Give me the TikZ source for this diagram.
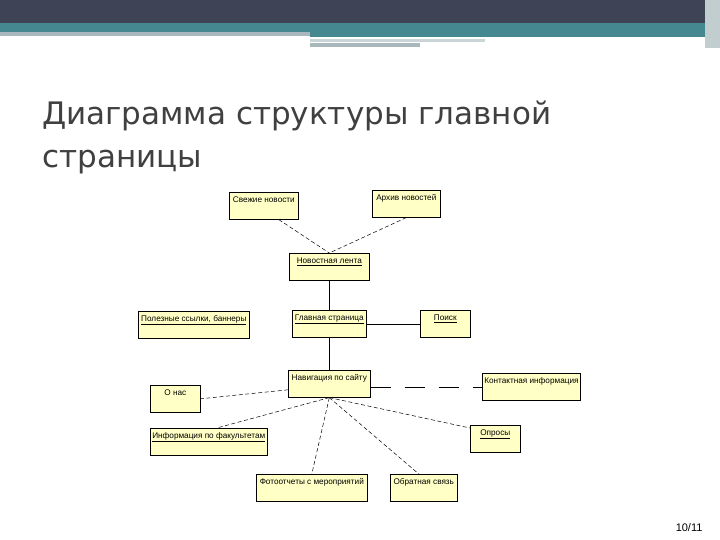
\documentclass[tikz,border=0pt]{standalone}
\usepackage{fontspec}
\setmainfont{Liberation Sans}
\newfontfamily\titlefont{DejaVu Sans}
\usetikzlibrary{calc}
\definecolor{hdrdark}{HTML}{3E4456}
\definecolor{hdrteal}{HTML}{468890}
\definecolor{hdrgray}{HTML}{A8B8BC}
\definecolor{boxfill}{HTML}{FFFFC6}
\definecolor{titlegray}{HTML}{404040}
\tikzset{
  blk/.style={draw,line width=0.6pt,fill=boxfill,anchor=north west,align=center,
              inner sep=2pt,font=\fontsize{8.2}{9}\selectfont,
              text height=8pt,text depth=15pt},
  dl/.style={line width=0.5pt,dash pattern=on 4pt off 2.5pt},
  ll/.style={line width=0.6pt,dash pattern=on 20pt off 14pt},
  sl/.style={line width=0.6pt},
}

\begin{document}
\begin{tikzpicture}[x=1pt,y=-1pt]
\useasboundingbox (0,0) rectangle (720,540);
% slide header
\fill[white] (0,0) rectangle (720,540);
\fill[hdrdark] (0,0) rectangle (720,23);
\fill[hdrteal] (0,23) rectangle (720,32);
\fill[hdrgray] (0,32) rectangle (310,36);
\fill[hdrteal] (310,32) rectangle (705,37);
\fill[hdrgray!60] (310,39) rectangle (485,42);
\fill[hdrgray] (310,43) rectangle (420,47);
\fill[hdrgray!70] (705,0) rectangle (720,48);
% title
\node[anchor=north west,align=left,text=titlegray,inner sep=0pt,
      font=\titlefont\fontsize{31}{43}\selectfont] (title) at (42,101)
  {Диаграмма структуры главной\\страницы};
% news
\node[blk,minimum width=69pt] (svezh) at (229,192) {Свежие новости};
\node[blk,minimum width=68pt] (arhiv) at (372,190) {Архив новостей};
\node[blk,minimum width=80pt] (lenta) at (289,253) {\underline{Новостная лента}};
% main row
\node[blk,minimum width=111pt] (links) at (138,311) {\underline{Полезные ссылки, баннеры}};
\node[blk,minimum width=74pt] (glav) at (292,310) {\underline{Главная страница}};
\node[blk,minimum width=50pt] (poisk) at (420,310) {\underline{Поиск}};
% navigation
\node[blk,minimum width=82pt] (nav) at (288,370) {Навигация по сайту};
\node[blk,minimum width=50pt] (onas) at (150,385) {О нас};
\node[blk,minimum width=98pt] (kontakt) at (482,373) {Контактная информация};
\node[blk,minimum width=115pt] (fak) at (150,428) {\underline{Информация по факультетам}};
\node[blk,minimum width=50pt] (opros) at (470,425) {\underline{Опросы}};
\node[blk,minimum width=111pt] (foto) at (256,474) {Фотоотчеты с мероприятий};
\node[blk,minimum width=67pt] (obr) at (390,474) {Обратная связь};
% connectors
\draw[dl] ([xshift=15pt]svezh.south) -- (lenta.north);
\draw[dl] (arhiv.south) -- (lenta.north);
\draw[sl] (lenta.south) -- (glav.north);
\draw[sl] (glav.east) -- (poisk.west);
\draw[sl] (glav.south) -- (glav.south |- nav.north);
\draw[dl] ([yshift=-6pt]nav.west) -- (onas.east);
\draw[ll] ([yshift=-3pt]nav.east) -- (kontakt.west);
\draw[dl] (nav.south) -- ([xshift=8pt]fak.north);
\draw[dl] (nav.south) -- ([yshift=-3pt]opros.north west);
\draw[dl] (nav.south) -- (foto.north);
\draw[dl] (nav.south) -- ([xshift=-5pt]obr.north);
% page number
\node[anchor=east,font=\fontsize{11}{12}\selectfont] (pnum) at (706,528) {10/11};
\end{tikzpicture}
\end{document}
